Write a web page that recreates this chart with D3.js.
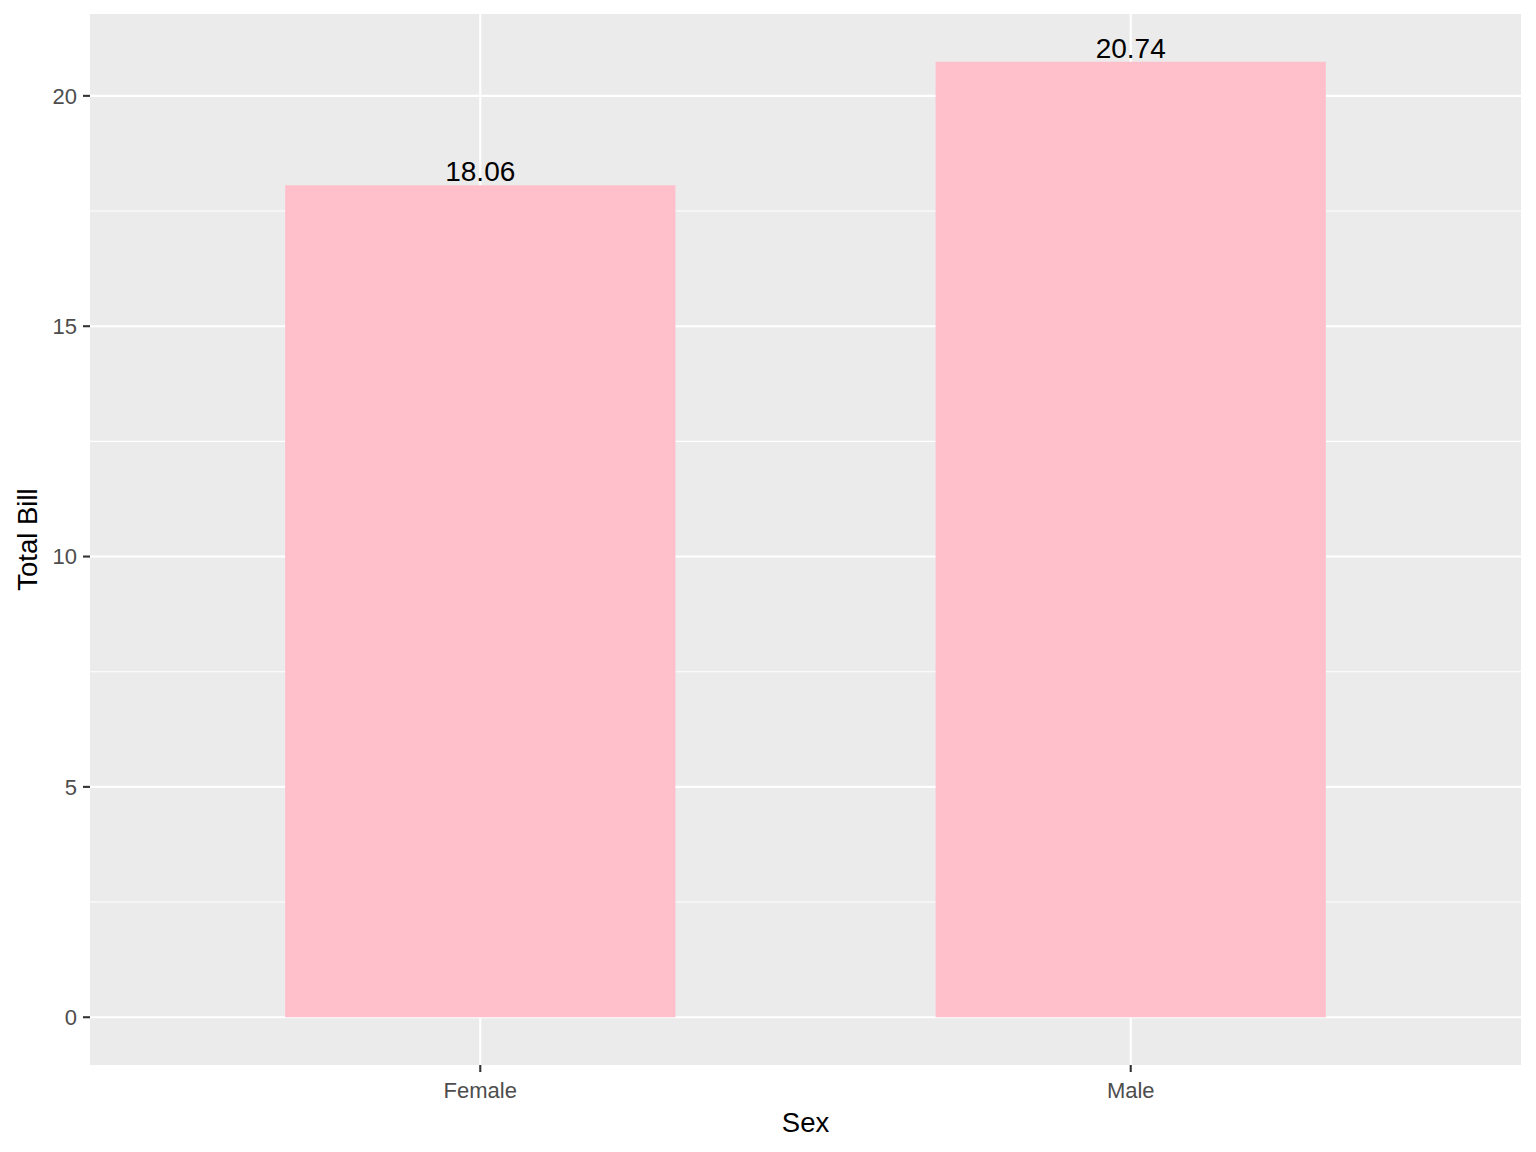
<!DOCTYPE html>
<html><head><meta charset="utf-8">
<script src="https://cdn.jsdelivr.net/npm/d3@7"></script>
<style>body{margin:0;background:#fff}text{font-family:"Liberation Sans",Arial,sans-serif}</style>
</head><body><svg id="c" width="1536" height="1152"></svg>
<script>
const categories = ["Female", "Male"];
const values = [18.06, 20.74];
const labels = ["18.06", "20.74"];
const yTicks = [0, 5, 10, 15, 20];
const yMinor = [2.5, 7.5, 12.5, 17.5];

const svg = d3.select("#c");
const L = 90, R = 1521, T = 14, B = 1065;
const maxV = d3.max(values);
const y = d3.scaleLinear().domain([-0.05 * maxV, maxV * 1.05]).range([B, T]);
// ggplot discrete: expand 0.6 units each side, bar width 0.6
const unit = (R - L) / (categories.length - 1 + 1.2);
const x = d3.scalePoint().domain(categories).range([L + 0.6 * unit, R - 0.6 * unit]);

svg.append("rect").attr("x", L).attr("y", T).attr("width", R - L).attr("height", B - T).attr("fill", "#ebebeb");
const g = svg.append("g");
yMinor.forEach(v => g.append("line").attr("x1", L).attr("x2", R).attr("y1", y(v)).attr("y2", y(v)).attr("stroke", "#fff").attr("stroke-width", 1.05));
yTicks.forEach(v => g.append("line").attr("x1", L).attr("x2", R).attr("y1", y(v)).attr("y2", y(v)).attr("stroke", "#fff").attr("stroke-width", 2.1));
categories.forEach(c => g.append("line").attr("x1", x(c)).attr("x2", x(c)).attr("y1", T).attr("y2", B).attr("stroke", "#fff").attr("stroke-width", 2.1));

svg.selectAll("rect.bar").data(categories).enter().append("rect").attr("class", "bar")
  .attr("x", c => x(c) - 0.3 * unit).attr("width", 0.6 * unit)
  .attr("y", (c, i) => y(values[i])).attr("height", (c, i) => y(0) - y(values[i]))
  .attr("fill", "#ffc0cb");

svg.selectAll("text.lab").data(categories).enter().append("text")
  .attr("x", c => x(c)).attr("y", (c, i) => y(values[i]) - 4)
  .attr("text-anchor", "middle").attr("font-size", 28).attr("fill", "#000")
  .text((c, i) => labels[i]);

yTicks.forEach(v => {
  svg.append("line").attr("x1", L - 7).attr("x2", L).attr("y1", y(v)).attr("y2", y(v)).attr("stroke", "#333").attr("stroke-width", 2.1);
  svg.append("text").attr("x", L - 13).attr("y", y(v)).attr("dy", "0.36em").attr("text-anchor", "end")
    .attr("font-size", 22).attr("fill", "#4d4d4d").text(v);
});
categories.forEach(c => {
  svg.append("line").attr("x1", x(c)).attr("x2", x(c)).attr("y1", B).attr("y2", B + 7).attr("stroke", "#333").attr("stroke-width", 2.1);
  svg.append("text").attr("x", x(c)).attr("y", B + 33).attr("text-anchor", "middle")
    .attr("font-size", 22).attr("fill", "#4d4d4d").text(c);
});
svg.append("text").attr("x", (L + R) / 2).attr("y", 1132).attr("text-anchor", "middle").attr("font-size", 27.5).attr("fill", "#000").text("Sex");
svg.append("text").attr("transform", `translate(37,${(T + B) / 2}) rotate(-90)`).attr("text-anchor", "middle").attr("font-size", 27.5).attr("fill", "#000").text("Total Bill");
</script></body></html>
